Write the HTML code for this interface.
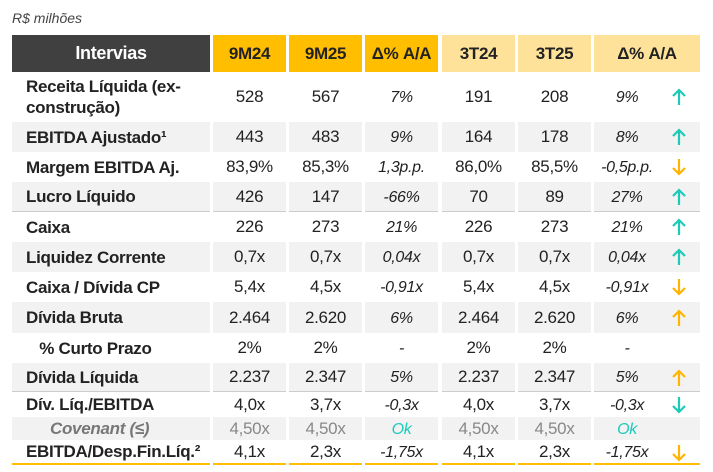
<!DOCTYPE html><html><head><style>
body{margin:0;width:713px;height:472px;background:#fff;position:relative;font-family:"Liberation Sans",sans-serif;color:#222;overflow:hidden}
.c{position:absolute;display:flex;align-items:center;justify-content:center;box-sizing:border-box;font-size:17px;letter-spacing:-0.3px}
.l{justify-content:flex-start;padding-left:14px;font-weight:bold;font-size:17px;line-height:21px}
.d{font-style:italic;font-size:16px;padding-top:2px}
.g{background:#f2f2f2}
.a{position:absolute}
</style></head><body>
<div style="position:absolute;left:12px;top:10px;font-size:14px;font-style:italic;color:#444">R$ milhões</div>
<div id="t"></div>
<script>
const cols=[[12,210],[213,286],[289,362],[365,438],[442,515],[518,591],[594,700]];
const hdr=[["Intervias","#404040","#fff"],["9M24","#ffbf00"],["9M25","#ffbf00"],["Δ% A/A","#ffbf00"],["3T24","#ffe29a"],["3T25","#ffe29a"],["Δ% A/A","#ffe29a"]];
let h="";
hdr.forEach((x,i)=>{h+=`<div class="c" style="left:${cols[i][0]}px;width:${cols[i][1]-cols[i][0]}px;top:35px;height:37px;background:${x[1]};color:${x[2]||'#222'};font-weight:bold;font-size:${i==0?18:17}px">${x[0]}</div>`});
const rows=[
[72,122,0,"Receita Líquida (ex-<br>construção)","528","567","7%","191","208","9%","u"],
[122,152,1,"EBITDA Ajustado¹","443","483","9%","164","178","8%","u"],
[152,182,0,"Margem EBITDA Aj.","83,9%","85,3%","1,3p.p.","86,0%","85,5%","-0,5p.p.","o"],
[182,212,1,"Lucro Líquido","426","147","-66%","70","89","27%","u"],
[212,242,0,"Caixa","226","273","21%","226","273","21%","u"],
[242,272,1,"Liquidez Corrente","0,7x","0,7x","0,04x","0,7x","0,7x","0,04x","u"],
[272,302,0,"Caixa / Dívida CP","5,4x","4,5x","-0,91x","5,4x","4,5x","-0,91x","o"],
[302,333,1,"Dívida Bruta","2.464","2.620","6%","2.464","2.620","6%","o"],
[333,363,0,"&nbsp;&nbsp;&nbsp;% Curto Prazo","2%","2%","-","2%","2%","-",""],
[363,392,1,"Dívida Líquida","2.237","2.347","5%","2.237","2.347","5%","o"],
[392,417,0,"Dív. Líq./EBITDA","4,0x","3,7x","-0,3x","4,0x","3,7x","-0,3x","u"],
[417,440,1,"Covenant (≤)","4,50x","4,50x","Ok","4,50x","4,50x","Ok","",1],
[440,465,0,"EBITDA/Desp.Fin.Líq.²","4,1x","2,3x","-1,75x","4,1x","2,3x","-1,75x","o"]];
const down={2:1,6:1,10:1,12:1};
rows.forEach((r,k)=>{const [t,b,g]=r;const cov=r[11];
for(let i=0;i<7;i++){let cls="c"+(g?" g":"")+(i==0?" l":"")+(i==3||i==6?" d":"");
let st=`left:${cols[i][0]}px;width:${cols[i][1]-cols[i][0]}px;top:${t}px;height:${b-t}px;`;
if(i==6)st+="padding-right:40px;";
if(cov){ if(i==0)st+="color:#777;font-style:italic;padding-left:38px;"; else if(i==3||i==6)st+="color:#1ccab8;"; else st+="color:#888;";}
if(k==3||k==9)st+="border-bottom:1px solid #ccc;";
if(k==12)st+="border-bottom:2px solid #ffbf00;";
h+=`<div class="${cls}" style="${st}">${r[3+i]}</div>`;}
if(r[10]){const col=r[10]=="u"?"#1ccab8":"#ffb400";const cy=(t+b)/2;
const p=down[k]?"M8 2 V17 M2 11 L8 17 L14 11":"M8 18 V3 M2 9 L8 3 L14 9";
h+=`<svg class="a" style="left:671px;top:${cy-10}px" width="16" height="20"><path d="${p}" stroke="${col}" stroke-width="2.2" fill="none"/></svg>`;}
});
document.getElementById("t").innerHTML=h;
</script>
</body></html>
